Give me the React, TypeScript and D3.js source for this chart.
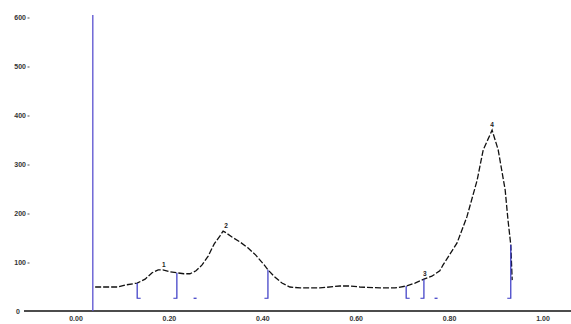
import React from "react";
import * as d3 from "d3";

// Detector trace: retention time (fraction of run) vs. response
const traceTime = [
  0.041, 0.062, 0.09, 0.105, 0.131, 0.148, 0.163, 0.176, 0.186, 0.201, 0.216,
  0.231, 0.244, 0.257, 0.27, 0.283, 0.296, 0.308, 0.315, 0.319, 0.334, 0.351,
  0.368, 0.385, 0.403, 0.411, 0.424, 0.441, 0.458, 0.48, 0.522, 0.565, 0.587,
  0.608, 0.651, 0.683, 0.707, 0.726, 0.745, 0.762, 0.779, 0.786, 0.816, 0.837,
  0.859, 0.872, 0.891, 0.904, 0.919, 0.925, 0.931, 0.934,
];
const traceValue = [
  49, 49, 49, 53, 57, 65, 78, 84, 84, 80, 78, 76, 76, 82, 94, 112, 137, 153,
  163, 161, 151, 141, 129, 114, 94, 84, 71, 57, 49, 47, 47, 51, 51, 49, 47, 47,
  51, 57, 65, 71, 82, 94, 139, 192, 267, 329, 369, 329, 247, 186, 135, 63,
];

// Integration markers: "[" start, "]" end, "-" baseline tick
const markerTime = [0.131, 0.216, 0.255, 0.411, 0.707, 0.745, 0.771, 0.931];
const markerTop = [57, 78, 26, 84, 51, 65, 26, 135];
const markerKind = ["[", "]", "-", "]", "[", "]", "-", "]"];

// Injection marker
const injectTime = 0.036;
const injectTop = 604;

// Peak annotations
const peakLabels = ["1", "2", "3", "4"];
const peakTime = [0.186, 0.319, 0.745, 0.889];
const peakValue = [84, 163, 65, 369];

const yTicks = [0, 100, 200, 300, 400, 500, 600];
const xTicks = [0, 0.2, 0.4, 0.6, 0.8, 1.0];
const xTickLabels = ["0.00", "0.20", "0.40", "0.60", "0.80", "1.00"];

const W = 571;
const H = 324;
const BLUE = "#3636c4";

export default function App() {
  const x = d3.scaleLinear().domain([0, 1]).range([76, 543]);
  const y = d3.scaleLinear().domain([0, 600]).range([311, 17]);
  const baseVal = 26;

  const pts: [number, number][] = traceTime.map((t, i) => [t, traceValue[i]]);
  const line = d3
    .line<[number, number]>()
    .x((d) => x(d[0]))
    .y((d) => y(d[1]));

  const font = "'Liberation Sans', Arial, sans-serif";

  return (
    <svg
      width={W}
      height={H}
      style={{ position: "absolute", left: 0, top: 0, background: "#fff" }}
    >
      {/* y tick labels */}
      {yTicks.map((v) => (
        <g key={v}>
          <text
            x={v === 0 ? 20 : 26}
            y={y(v) + 2.5}
            textAnchor="end"
            fontFamily={font}
            fontSize={7}
            fontWeight="bold"
            fill="#333"
          >
            {v}
          </text>
          {v !== 0 && (
            <line x1={27.5} x2={29.5} y1={y(v) + 1} y2={y(v) + 1} stroke="#555" strokeWidth={1} />
          )}
        </g>
      ))}

      {/* x axis baseline */}
      <line x1={24} x2={W} y1={y(0)} y2={y(0)} stroke="#111" strokeWidth={1.5} />

      {/* x tick labels */}
      {xTicks.map((t, i) => (
        <text
          key={t}
          x={x(t)}
          y={321}
          textAnchor="middle"
          fontFamily={font}
          fontSize={7}
          fontWeight="bold"
          fill="#333"
        >
          {xTickLabels[i]}
        </text>
      ))}

      {/* injection marker */}
      <line
        x1={x(injectTime)}
        x2={x(injectTime)}
        y1={y(0)}
        y2={y(injectTop)}
        stroke="#5a50d0"
        strokeWidth={1.3}
      />

      {/* trace */}
      <path
        d={line(pts) ?? ""}
        fill="none"
        stroke="#111"
        strokeWidth={1.3}
        strokeDasharray="6,2"
      />

      {/* integration markers */}
      {markerTime.map((t, i) => {
        const mx = x(t);
        const yb = y(baseVal);
        if (markerKind[i] === "-") {
          return (
            <line key={i} x1={mx - 1.5} x2={mx + 1.5} y1={yb} y2={yb} stroke={BLUE} strokeWidth={1.2} />
          );
        }
        const dir = markerKind[i] === "[" ? 1 : -1;
        return (
          <path
            key={i}
            d={`M${mx},${y(markerTop[i])}L${mx},${yb}L${mx + dir * 3.5},${yb}`}
            fill="none"
            stroke={BLUE}
            strokeWidth={1.2}
          />
        );
      })}

      {/* peak numbers */}
      {peakLabels.map((lab, i) => (
        <text
          key={lab}
          x={x(peakTime[i]) + 1}
          y={y(peakValue[i]) - 3}
          textAnchor="middle"
          fontFamily={font}
          fontSize={6.5}
          fontWeight="bold"
          fill="#222"
        >
          {lab}
        </text>
      ))}
    </svg>
  );
}
